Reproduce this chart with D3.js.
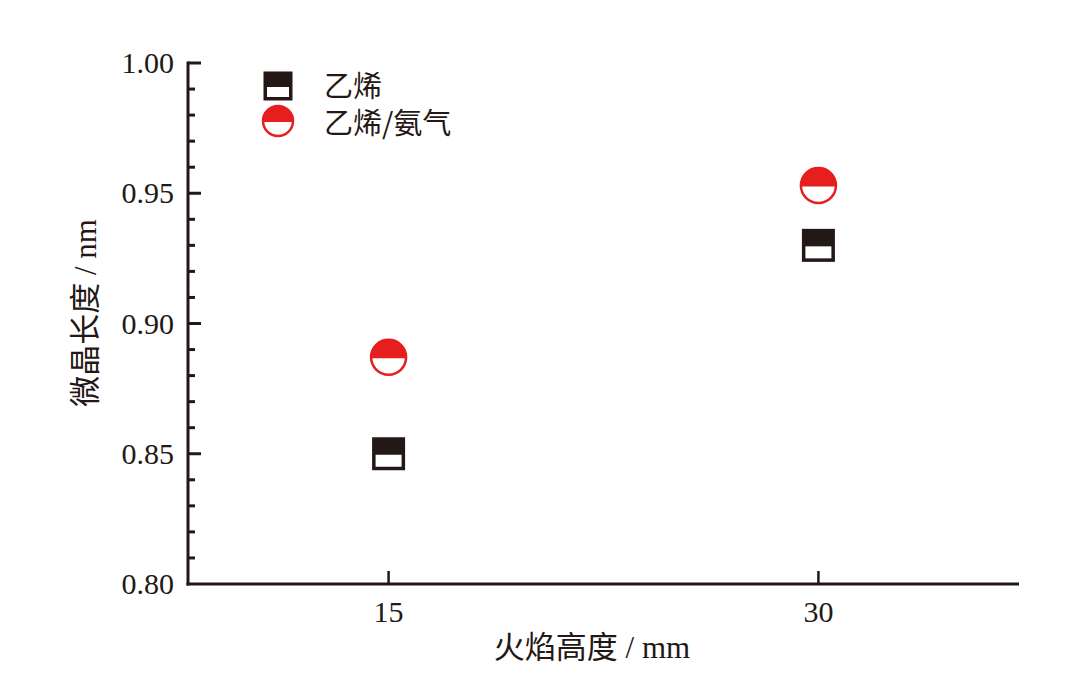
<!DOCTYPE html>
<html><head><meta charset="utf-8">
<script src="https://cdn.jsdelivr.net/npm/d3@7"></script>
<style>body{margin:0;background:#fff}</style>
</head><body>
<script>
const categories = [15, 30];
const seriesNames = ["乙烯", "乙烯/氨气"];
const ethylene = [0.850, 0.930];
const ethyleneAmmonia = [0.887, 0.953];
const yTicks = [0.80, 0.85, 0.90, 0.95, 1.00];
const xTickLabels = ["15", "30"];

const W = 1082, H = 700;
const ink = "#231815", red = "#e61e1e";
const font = "'Liberation Serif','Times New Roman','Noto Sans CJK SC',serif";
const svg = d3.select("body").append("svg").attr("width", W).attr("height", H);

const x = d3.scaleLinear().domain([8, 37]).range([188, 1019]);
const y = d3.scaleLinear().domain([0.80, 1.00]).range([584, 63]);

// y axis
const gy = svg.append("g").attr("transform", "translate(188,0)");
gy.append("line").attr("x1", 0).attr("x2", 0).attr("y1", y(1.0) - 1.5).attr("y2", y(0.8) + 1.5)
  .attr("stroke", ink).attr("stroke-width", 3);
const minor = d3.range(1, 20).map(i => +(0.80 + i * 0.01).toFixed(2));
gy.selectAll("line.t").data(minor).join("line").attr("class", "t")
  .attr("x1", 0).attr("x2", d => (Math.round(d * 100) % 5 === 0) ? 13 : 7)
  .attr("y1", d => y(d)).attr("y2", d => y(d)).attr("stroke", ink).attr("stroke-width", 3);
gy.append("line").attr("x1", 0).attr("x2", 13).attr("y1", y(1.0)).attr("y2", y(1.0))
  .attr("stroke", ink).attr("stroke-width", 3);
gy.selectAll("text").data(yTicks).join("text")
  .attr("x", -14).attr("y", d => y(d) + 10).attr("text-anchor", "end")
  .attr("font-family", font).attr("font-size", 30).attr("fill", ink)
  .text(d => d.toFixed(2));

// x axis
const gx = svg.append("g");
gx.append("line").attr("x1", 186.5).attr("x2", 1019).attr("y1", 584).attr("y2", 584)
  .attr("stroke", ink).attr("stroke-width", 3);
gx.selectAll("line.t").data(categories).join("line").attr("class", "t")
  .attr("x1", d => x(d)).attr("x2", d => x(d)).attr("y1", 584).attr("y2", 571)
  .attr("stroke", ink).attr("stroke-width", 2.5);
gx.selectAll("text").data(categories).join("text")
  .attr("x", d => x(d)).attr("y", 622).attr("text-anchor", "middle")
  .attr("font-family", font).attr("font-size", 30).attr("fill", ink)
  .text((d, i) => xTickLabels[i]);

svg.append("text").attr("x", 592).attr("y", 658).attr("text-anchor", "middle")
  .attr("font-family", font).attr("font-size", 31).attr("fill", ink).text("火焰高度 / mm");
svg.append("text").attr("transform", "translate(96,313) rotate(-90)").attr("text-anchor", "middle")
  .attr("font-family", font).attr("font-size", 31).attr("fill", ink).text("微晶长度 / nm");

// markers
function squareMarker(g, cx, cy, s) {
  g.append("rect").attr("x", cx - s / 2).attr("y", cy - s / 2).attr("width", s).attr("height", s)
    .attr("fill", ink);
  const b = 3.5;
  g.append("rect").attr("x", cx - s / 2 + b).attr("y", cy + 1).attr("width", s - 2 * b).attr("height", s / 2 - b - 1)
    .attr("fill", "#fff");
}
function circleMarker(g, cx, cy, r) {
  g.append("circle").attr("cx", cx).attr("cy", cy).attr("r", r - 1).attr("fill", "#fff")
    .attr("stroke", red).attr("stroke-width", 2.5);
  const arc = d3.arc().innerRadius(0).outerRadius(r).startAngle(-Math.PI / 2).endAngle(Math.PI / 2);
  g.append("path").attr("d", arc()).attr("transform", `translate(${cx},${cy + 1})`).attr("fill", red);
}

const gm = svg.append("g");
categories.forEach((c, i) => squareMarker(gm, x(c), y(ethylene[i]), 33));
categories.forEach((c, i) => circleMarker(gm, x(c), y(ethyleneAmmonia[i]), 18.5));

// legend
const gl = svg.append("g");
squareMarker(gl, 278, 86, 29);
circleMarker(gl, 278, 121, 16);
gl.selectAll("text").data(seriesNames).join("text")
  .attr("x", 324).attr("y", (d, i) => 97 + i * 37)
  .attr("font-family", "'Noto Sans CJK SC','Liberation Sans',sans-serif").attr("font-size", 29)
  .attr("fill", ink).text(d => d);
</script>
</body></html>
